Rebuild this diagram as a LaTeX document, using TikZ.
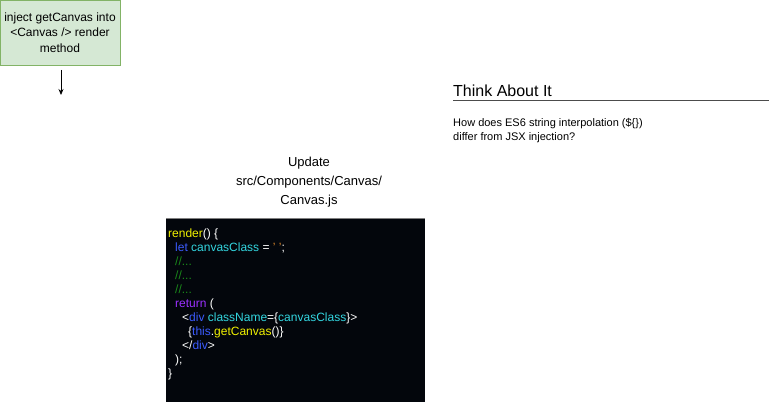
\documentclass[tikz,border=0pt]{standalone}
\usepackage{fontspec}
\setmainfont{Liberation Sans}
\usetikzlibrary{arrows.meta}
\definecolor{gfill}{HTML}{D5E8D4}
\definecolor{gdraw}{HTML}{82B366}
\definecolor{codebg}{HTML}{03060C}
\definecolor{cyel}{HTML}{F2F200}
\definecolor{cblue}{HTML}{3B5BFF}
\definecolor{ccyan}{HTML}{33D6E0}
\definecolor{cgreen}{HTML}{1A8A1A}
\definecolor{cpurp}{HTML}{9B30FF}
\definecolor{corange}{HTML}{E08A2A}
\begin{document}
\begin{tikzpicture}[x=1pt,y=-1pt,
  codeline/.style={anchor=base west,inner sep=0pt,text=white,font=\fontsize{12}{14}\selectfont},
  greenbox/.style={draw=gdraw,fill=gfill,minimum width=120pt,minimum height=65pt,align=center,inner sep=2pt,font=\fontsize{12}{15.5}\selectfont},
  plain/.style={inner sep=0pt,align=center}]
\useasboundingbox (0,0) rectangle (771,404);
\node[greenbox] (inj) at (60,32.5) {inject getCanvas into\\\textless Canvas /\textgreater{} render\\method};
\coordinate (arrEnd) at (61,95);
\draw[-{Stealth[length=6pt,width=5pt]},line width=0.8pt] (61,70) -- (arrEnd);

\node[plain,font=\fontsize{16}{19}\selectfont,anchor=base west] (think) at (453,96) {Think About It};
\coordinate (ulA) at (453,100);
\coordinate (ulB) at (769,100);
\draw[line width=0.8pt,gray!60!black] (ulA) -- (ulB);
\node[plain,font=\fontsize{11}{14}\selectfont,anchor=north west,align=left] (q) at (453,118) {How does ES6 string interpolation (\$\{\})\\differ from JSX injection?};

\node[plain,font=\fontsize{13}{19}\selectfont] (upd) at (309,182) {Update\\src/Components/Canvas/\\Canvas.js};

\node[fill=codebg,minimum width=259pt,minimum height=184pt,inner sep=0pt,anchor=north west] (code) at (166,218) {};
\draw[gray,line width=0.8pt] (code.north west) -- (code.north east);

\node[codeline] (l1) at (168,237) {\textcolor{cyel}{render}() \{};
\node[codeline] (l2) at (175,251) {\textcolor{cblue}{let} \textcolor{ccyan}{canvasClass} = \textcolor{corange}{' '};};
\node[codeline] (l3) at (175,265) {\textcolor{cgreen}{//...}};
\node[codeline] (l4) at (175,279) {\textcolor{cgreen}{//...}};
\node[codeline] (l5) at (175,293) {\textcolor{cgreen}{//...}};
\node[codeline] (l6) at (175,307) {\textcolor{cpurp}{return} (};
\node[codeline] (l7) at (182,321) {\textless\textcolor{cblue}{div} \textcolor{ccyan}{className}=\{\textcolor{ccyan}{canvasClass}\}\textgreater};
\node[codeline] (l8) at (188,335) {\{\textcolor{cblue}{this}.\textcolor{cyel}{getCanvas}()\}};
\node[codeline] (l9) at (182,349) {\textless/\textcolor{cblue}{div}\textgreater};
\node[codeline] (l10) at (175,363) {);};
\node[codeline] (l11) at (168,377) {\}};
\end{tikzpicture}
\end{document}
